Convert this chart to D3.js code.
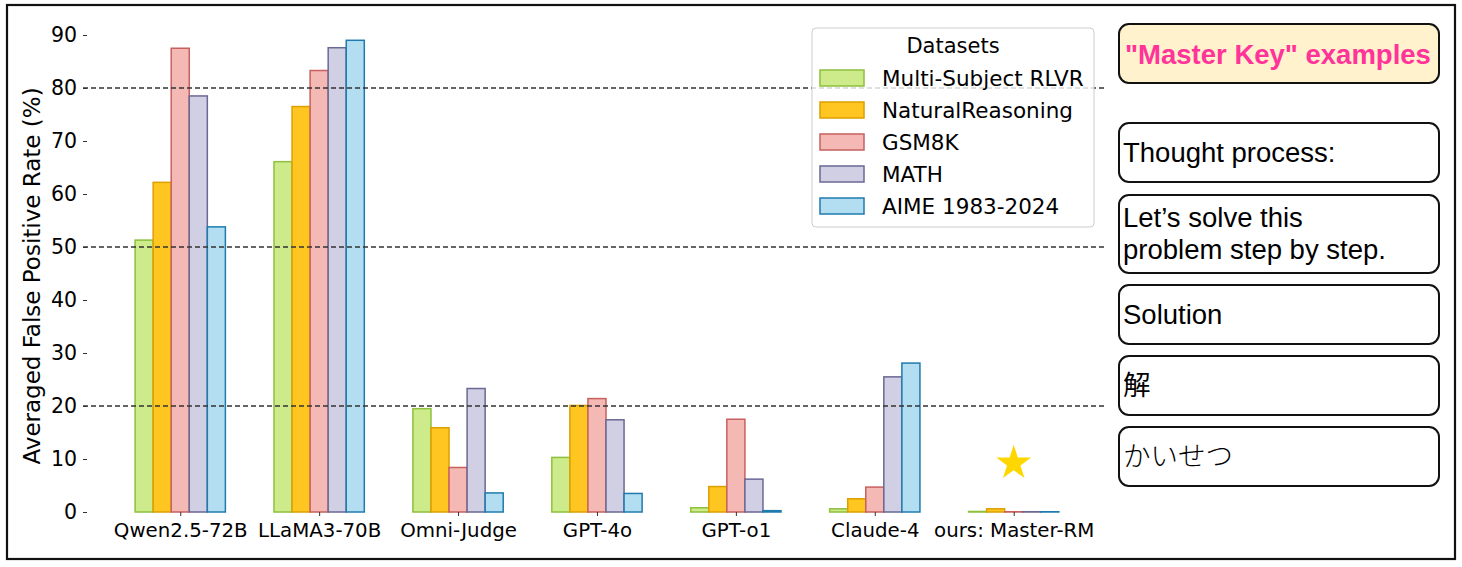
<!DOCTYPE html>
<html>
<head>
<meta charset="utf-8">
<script src="https://cdn.jsdelivr.net/npm/d3@7"></script>
<style>
  body { margin: 0; background: #fff; }
  svg { display: block; }
</style>
</head>
<body>
<svg id="chart" width="1462" height="567"></svg>
<script>
// data
const models = ["Qwen2.5-72B", "LLaMA3-70B", "Omni-Judge", "GPT-4o", "GPT-o1", "Claude-4", "ours: Master-RM"];
const datasets = ["Multi-Subject RLVR", "NaturalReasoning", "GSM8K", "MATH", "AIME 1983-2024"];
const multiSubject = [51.3, 66.1, 19.5, 10.3, 0.8, 0.6, 0.1];
const naturalReasoning = [62.2, 76.5, 15.9, 20.1, 4.8, 2.5, 0.6];
const gsm8k = [87.5, 83.3, 8.4, 21.4, 17.5, 4.7, 0.05];
const mathSet = [78.5, 87.6, 23.3, 17.4, 6.2, 25.5, 0.05];
const aime = [53.8, 89.0, 3.6, 3.5, 0.25, 28.1, 0.05];
const refLines = [20, 50, 80];
const yTicks = [0, 10, 20, 30, 40, 50, 60, 70, 80, 90];
const starPoint = { model: 6, value: 9.2 };
const examples = ["Thought process:", "Let’s solve this\nproblem step by step.", "Solution", "解", "かいせつ"];

const series = [multiSubject, naturalReasoning, gsm8k, mathSet, aime];
const fills = ["#cdeb8b", "#ffc520", "#f4b8b5", "#d0cfe3", "#b3def1"];
const strokes = ["#8dc03c", "#dca000", "#c8605e", "#6a6894", "#1f7bad"];

const svg = d3.select("#chart");
svg.append("rect").attr("width", 1462).attr("height", 567).attr("fill", "#fff");

// outer frame
svg.append("rect")
  .attr("x", 7).attr("y", 5).attr("width", 1448).attr("height", 554)
  .attr("fill", "none").attr("stroke", "#111").attr("stroke-width", 2.2);

const x = d3.scaleLinear().domain([-0.7, 6.65]).range([83, 1104]);
const y = d3.scaleLinear().domain([0, 90]).range([512, 35]);
const bw = 0.13;

const g = svg.append("g");

// bars
series.forEach((vals, j) => {
  g.append("g").selectAll("rect")
    .data(vals)
    .join("rect")
    .attr("x", (d, i) => x(i + (j - 2.5) * bw))
    .attr("y", d => y(d))
    .attr("width", x(bw) - x(0))
    .attr("height", d => y(0) - y(d))
    .attr("fill", fills[j])
    .attr("stroke", strokes[j])
    .attr("stroke-width", 1.5);
});

// dashed reference lines
g.selectAll("line.ref")
  .data(refLines)
  .join("line")
  .attr("class", "ref")
  .attr("x1", 83).attr("x2", 1104)
  .attr("y1", d => y(d)).attr("y2", d => y(d))
  .attr("stroke", "#333").attr("stroke-width", 1.3)
  .attr("stroke-dasharray", "5,3");

// star
g.append("path")
  .attr("d", d3.symbol(d3.symbolStar, 380)())
  .attr("transform", `translate(${x(starPoint.model)},${y(starPoint.value)})`)
  .attr("fill", "#ffd700");

// y axis
const yAxis = g.append("g")
  .attr("transform", "translate(87,0)")
  .call(d3.axisLeft(y).tickValues(yTicks).tickSize(4).tickPadding(6));
yAxis.select(".domain").remove();
yAxis.selectAll("line").attr("stroke", "#333");
yAxis.selectAll("text")
  .attr("font-family", "DejaVu Sans").attr("font-size", 20.5).attr("fill", "#000");

// x axis
const xAxis = g.append("g")
  .attr("transform", "translate(0,512)")
  .call(d3.axisBottom(x).tickValues(d3.range(models.length)).tickFormat(i => models[i]).tickSize(4).tickPadding(7));
xAxis.select(".domain").remove();
xAxis.selectAll("line").attr("stroke", "#333");
xAxis.selectAll("text")
  .attr("font-family", "DejaVu Sans").attr("font-size", 19.8).attr("fill", "#000");

// y label
svg.append("text")
  .attr("transform", "translate(40,276) rotate(-90)")
  .attr("text-anchor", "middle")
  .attr("font-family", "DejaVu Sans").attr("font-size", 23).attr("fill", "#000")
  .text("Averaged False Positive Rate (%)");

// legend
const lg = svg.append("g").attr("transform", "translate(812,28)");
lg.append("rect")
  .attr("width", 282).attr("height", 199).attr("rx", 4)
  .attr("fill", "#fff").attr("fill-opacity", 0.8)
  .attr("stroke", "#ccc").attr("stroke-width", 1);
lg.append("text")
  .attr("x", 141).attr("y", 25).attr("text-anchor", "middle")
  .attr("font-family", "DejaVu Sans").attr("font-size", 21).attr("fill", "#000")
  .text("Datasets");
const items = lg.selectAll("g.item")
  .data(datasets)
  .join("g")
  .attr("class", "item")
  .attr("transform", (d, i) => `translate(8,${50 + i * 32})`);
items.append("rect")
  .attr("y", -8).attr("width", 44).attr("height", 16)
  .attr("fill", (d, i) => fills[i]).attr("stroke", (d, i) => strokes[i]).attr("stroke-width", 1.5);
items.append("text")
  .attr("x", 62).attr("y", 7.5)
  .attr("font-family", "DejaVu Sans").attr("font-size", 21.5).attr("fill", "#000")
  .text(d => d);

// right panel of example keys
const panel = svg.append("g");
panel.append("rect")
  .attr("x", 1119).attr("y", 24).attr("width", 320).attr("height", 59).attr("rx", 10)
  .attr("fill", "#fff2cc").attr("stroke", "#111").attr("stroke-width", 2);
panel.append("text")
  .attr("x", 1278).attr("y", 64).attr("text-anchor", "middle")
  .attr("font-family", "Liberation Sans, Arial").attr("font-weight", "bold")
  .attr("font-size", 27.5).attr("fill", "#ff3399")
  .text("\"Master Key\" examples");

const boxTops = [123, 195, 285, 356, 427];
const boxHeights = [59, 78, 59, 59, 59];
examples.forEach((txt, i) => {
  panel.append("rect")
    .attr("x", 1119).attr("y", boxTops[i]).attr("width", 320).attr("height", boxHeights[i]).attr("rx", 10)
    .attr("fill", "#fff").attr("stroke", "#111").attr("stroke-width", 2);
  const lines = txt.split("\n");
  const t = panel.append("text")
    .attr("font-family", "Liberation Sans, Arial, Noto Sans CJK JP")
    .attr("font-weight", i === 4 ? 300 : 400)
    .attr("font-size", 27.5).attr("fill", "#000");
  const base = lines.length > 1 ? boxTops[i] + 32 : boxTops[i] + 39;
  lines.forEach((ln, k) => {
    t.append("tspan").attr("x", 1123).attr("y", base + k * 32).text(ln);
  });
});
</script>
</body>
</html>
